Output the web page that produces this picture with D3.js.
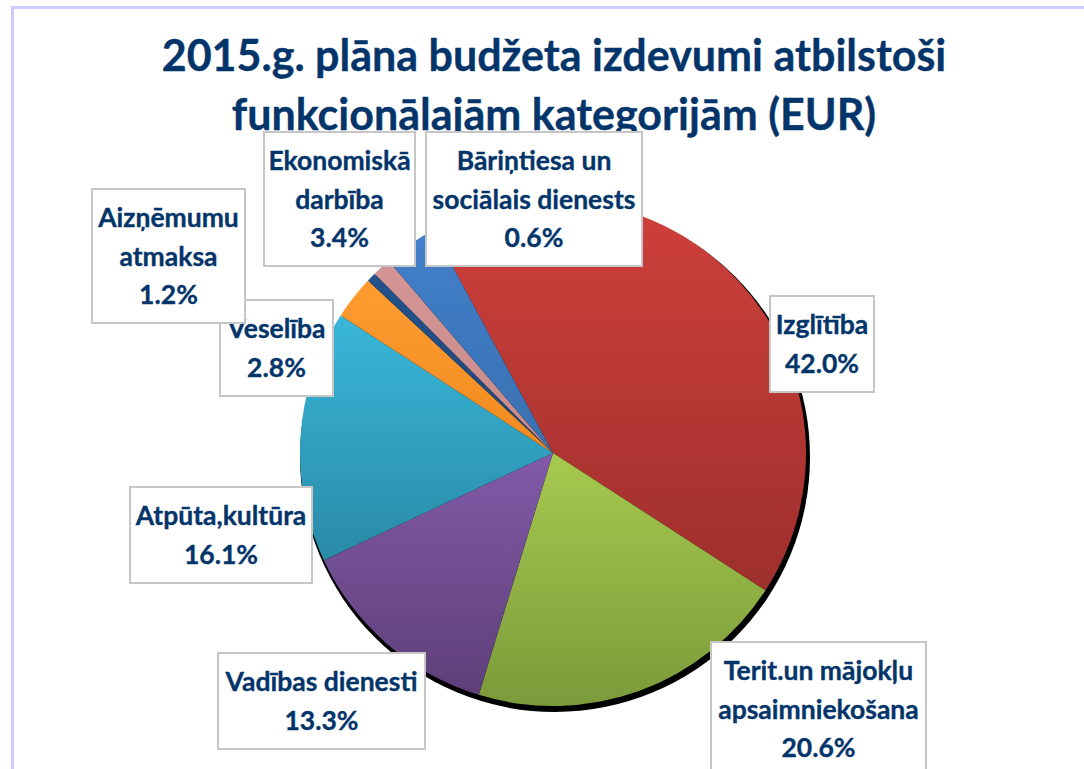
<!DOCTYPE html>
<html>
<head>
<meta charset="utf-8">
<script src="https://d3js.org/d3.v7.min.js"></script>
<style>
	html, body { margin: 0; padding: 0; background: #fff; overflow: hidden; }
	text { font-family: Lato, "Open Sans", sans-serif; font-weight: 700; fill: #04356a; stroke: #04356a; stroke-width: 0.35px; text-anchor: middle; }
</style>
</head>
<body>
<div id="chart"></div>
<script>
// chart data, clockwise from the red slice
var categories = ["Izglītība", "Terit.un mājokļu\napsaimniekošana", "Vadības dienesti", "Atpūta,kultūra",
	"Veselība", "Bāriņtiesa un\nsociālais dienests", "Aizņēmumu\natmaksa", "Ekonomiskā\ndarbība"];
var shares = [42.0, 20.6, 13.3, 16.1, 2.8, 0.6, 1.2, 3.4];
var titleLines = ["2015.g. plāna budžeta izdevumi atbilstoši", "funkcionālajām kategorijām (EUR)"];

// styles, same order as the categories: [gradient top, gradient bottom]
var sliceColors = [["#cf403c", "#9e2f2c"], ["#a6ca4f", "#7b9a3a"], ["#825aa8", "#5e3f78"], ["#39b7da", "#298aa6"],
	["#ff9c30", "#f08a20"], ["#24528a", "#1c4678"], ["#d39595", "#c98a8a"], ["#4180cb", "#3a70b0"]];

// label boxes as they sit in the picture: [left, top, right, bottom]
var labelBoxes = [[770, 296, 874, 392], [711, 642, 926, 780], [218, 653, 425, 749], [130, 487, 312, 583],
	[220, 300, 333, 396], [426, 132, 642, 266], [92, 189, 245, 323], [264, 132, 415, 266]];

var width = 1084, height = 769;
var cx = 553, cy = 453, radius = 253;
var lineStep = 38.7;

var svg = d3.select("#chart")
	.append("svg")
		.attr("width", width)
		.attr("height", height)
		.style("display", "block");

// frame at the top and left of the chart area
svg.append("path")
	.attr("d", "M12.5," + height + "V7.5H" + width)
	.attr("fill", "none")
	.attr("stroke", "#ccccff")
	.attr("stroke-width", 3);

// title
svg.selectAll(".title")
	.data(titleLines)
	.enter()
	.append("text")
		.attr("class", "title")
		.attr("x", 554)
		.attr("y", function(d, i) { return 71 + i * 59; })
		.attr("font-size", "43px")
		.text(function(d) { return d; });

// one vertical gradient per slice
var defs = svg.append("defs");
sliceColors.forEach(function(c, i) {
	var g = defs.append("linearGradient")
		.attr("id", "slice" + i)
		.attr("x1", 0).attr("y1", 0).attr("x2", 0).attr("y2", 1);
	g.append("stop").attr("offset", "0%").attr("stop-color", c[0]);
	g.append("stop").attr("offset", "100%").attr("stop-color", c[1]);
});

var pie = d3.pie()
	.sort(null)
	.startAngle(-28.3 * Math.PI / 180)
	.endAngle(331.7 * Math.PI / 180);
var arc = d3.arc().innerRadius(0).outerRadius(radius);

var pieG = svg.append("g")
	.attr("transform", "translate(" + cx + "," + cy + ")");

// black shadow, larger than the pie and pushed down to the right
pieG.append("circle")
	.attr("cx", 2)
	.attr("cy", 4)
	.attr("r", radius + 2)
	.attr("fill", "#000");

pieG.selectAll(".slice")
	.data(pie(shares))
	.enter()
	.append("path")
		.attr("class", "slice")
		.attr("d", arc)
		.attr("fill", function(d, i) { return "url(#slice" + i + ")"; });

// labels, in data order so Aizņēmumu lands on top of Veselība
var labels = svg.selectAll(".label")
	.data(categories)
	.enter()
	.append("g")
		.attr("class", "label");

labels.append("rect")
	.attr("x", function(d, i) { return labelBoxes[i][0]; })
	.attr("y", function(d, i) { return labelBoxes[i][1]; })
	.attr("width", function(d, i) { return labelBoxes[i][2] - labelBoxes[i][0]; })
	.attr("height", function(d, i) { return labelBoxes[i][3] - labelBoxes[i][1]; })
	.attr("fill", "#fff")
	.attr("stroke", "#c6c6c6")
	.attr("stroke-width", 2);

labels.each(function(d, i) {
	var lines = d.split("\n").concat(d3.format(".1f")(shares[i]) + "%");
	var box = labelBoxes[i];
	var mid = (box[1] + Math.min(box[3], 776)) / 2 + 9.5;
	d3.select(this).selectAll("text")
		.data(lines)
		.enter()
		.append("text")
			.attr("x", (box[0] + box[2]) / 2)
			.attr("y", function(l, k) { return mid + (k - (lines.length - 1) / 2) * lineStep; })
			.attr("font-size", "26.5px")
			.text(function(l) { return l; });
});
</script>
</body>
</html>
